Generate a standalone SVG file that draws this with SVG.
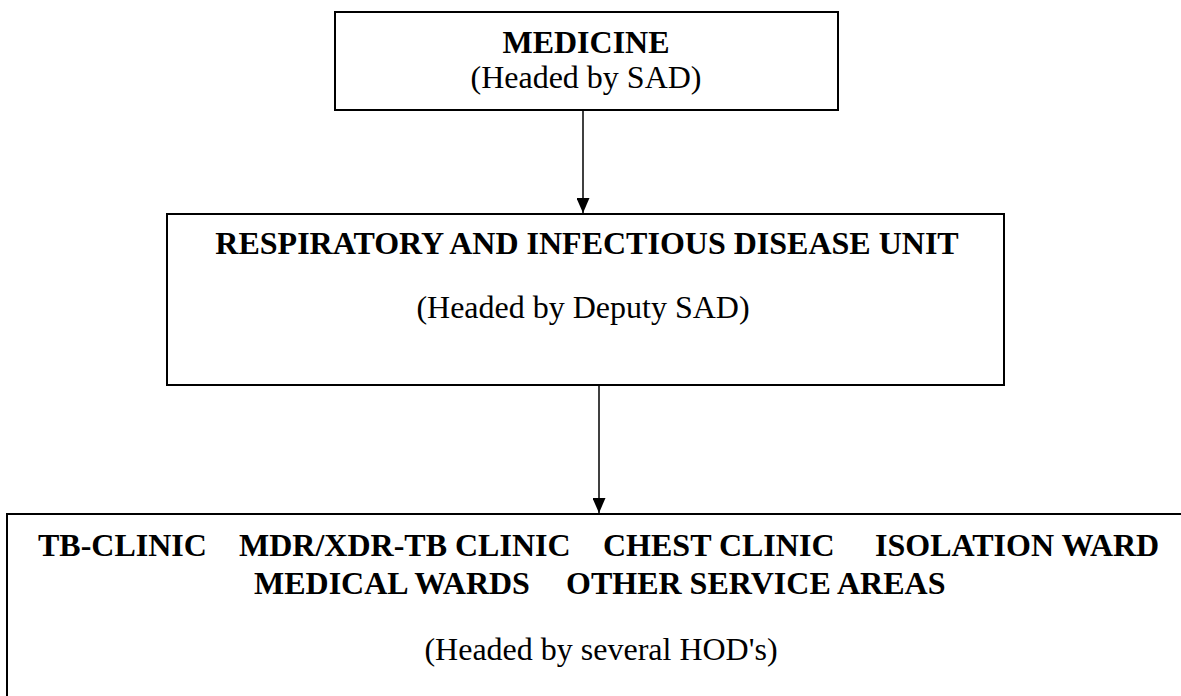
<svg xmlns="http://www.w3.org/2000/svg" width="1181" height="696" viewBox="0 0 1181 696">
  <style>
    .box { fill: #ffffff; stroke: #000000; stroke-width: 2; }
    .edge { stroke: #000000; stroke-width: 1.5; fill: none; }
    .b { font-family: "Liberation Serif", "Times New Roman", serif; font-size: 32px; font-weight: bold; fill: #000; }
    .r { font-family: "Liberation Serif", "Times New Roman", serif; font-size: 32px; fill: #000; }
    .c { text-anchor: middle; }
  </style>
  <defs>
    <marker id="arrow" markerWidth="15" markerHeight="13" refX="15" refY="6.5" orient="auto" markerUnits="userSpaceOnUse">
      <path d="M0,0 L15,6.5 L0,13 Z" fill="#000"/>
    </marker>
  </defs>
  <rect width="1181" height="696" fill="#ffffff"/>
  <g id="connectors">
    <line class="edge" x1="583" y1="110" x2="583" y2="213" marker-end="url(#arrow)"/>
    <line class="edge" x1="599" y1="385" x2="599" y2="513" marker-end="url(#arrow)"/>
  </g>
  <g id="medicine">
    <rect class="box" x="335" y="12" width="503" height="98"/>
    <text class="b c" x="586" y="53">MEDICINE</text>
    <text class="r c" x="586" y="88">(Headed by SAD)</text>
  </g>
  <g id="respiratory-unit">
    <rect class="box" x="167" y="214" width="837" height="171"/>
    <text class="b c" x="587" y="254">RESPIRATORY AND INFECTIOUS DISEASE UNIT</text>
    <text class="r c" x="583" y="318">(Headed by Deputy SAD)</text>
  </g>
  <g id="service-areas">
    <rect class="box" x="7" y="514" width="1190" height="200"/>
    <text class="b" x="38" y="556">TB-CLINIC</text>
    <text class="b" x="239" y="556">MDR/XDR-TB CLINIC</text>
    <text class="b" x="603" y="556">CHEST CLINIC</text>
    <text class="b" x="875" y="556">ISOLATION WARD</text>
    <text class="b" x="254" y="594">MEDICAL WARDS</text>
    <text class="b" x="566" y="594">OTHER SERVICE AREAS</text>
    <text class="r c" x="601" y="660">(Headed by several HOD's)</text>
  </g>
</svg>
